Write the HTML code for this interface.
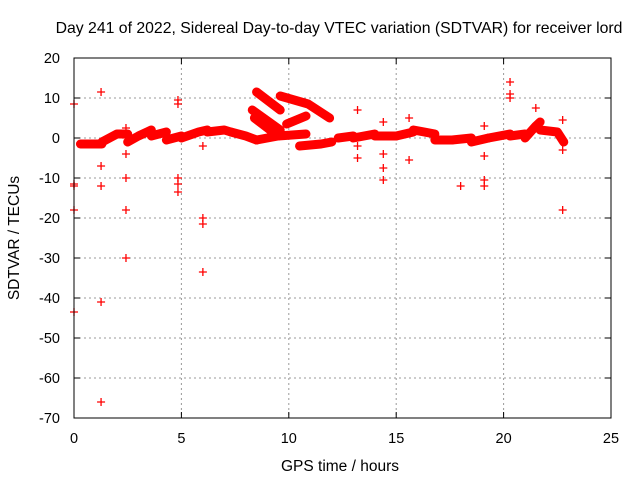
<!DOCTYPE html>
<html><head><meta charset="utf-8"><style>
body{margin:0;background:#fff;}
svg{display:block;font-family:"Liberation Sans",sans-serif;}
</style></head><body>
<svg id="chart" width="640" height="480" viewBox="0 0 640 480">
<rect width="640" height="480" fill="#fff"/>
<g id="grid"></g>
<g id="ticks"></g>
<g id="tracks"></g>
<g id="outliers"></g>
<rect x="74" y="58" width="537" height="360" fill="none" stroke="#000" stroke-width="1"/>
<text x="339" y="33" font-size="15.8" text-anchor="middle">Day 241 of 2022, Sidereal Day-to-day VTEC variation (SDTVAR) for receiver lord</text>
<text x="340" y="471" font-size="15.5" text-anchor="middle">GPS time / hours</text>
<text transform="translate(19,238) rotate(-90)" font-size="15.5" text-anchor="middle">SDTVAR / TECUs</text>
</svg>
<script>
const xTicks=[0,5,10,15,20,25];
const yTicks=[20,10,0,-10,-20,-30,-40,-50,-60,-70];
const tracks=[
[[0.3,-1.5],[1.3,-1.5]],
[[1.3,-1],[2.0,1],[2.5,1]],
[[2.5,-1],[3.0,0.5],[3.6,2]],
[[3.6,0.5],[4.3,1.5]],
[[4.3,-0.5],[5.0,0.5]],
[[5.0,0],[5.8,1.5],[6.2,2]],
[[6.2,1.5],[7.0,2],[7.3,1.5]],
[[7.3,1.5],[8.0,0.5],[8.5,-0.5]],
[[8.5,11.5],[9.6,7]],
[[8.3,7],[9.6,2]],
[[8.4,5],[9.5,0.5]],
[[8.5,-0.5],[9.5,0.5],[10.8,1]],
[[9.6,10.5],[10.9,8.5],[11.9,5]],
[[9.9,3.5],[10.8,5.5]],
[[10.5,-2],[11.5,-1.5],[12,-1]],
[[12.3,0],[13.0,0.5]],
[[13.0,0],[14,1]],
[[14,0.5],[15,0.5]],
[[15,0.5],[15.8,1.5]],
[[15.8,2],[16.8,1]],
[[16.8,-0.5],[17.6,-0.5]],
[[17.6,-0.5],[18.5,0]],
[[18.5,-1],[19.3,0]],
[[19.3,0],[20.3,1]],
[[20.3,0.5],[21.0,1]],
[[21,0],[21.5,3],[21.7,4]],
[[21.7,2],[22.5,1.5],[22.8,-1]]
];
const outHours=[0,0,0,0,0,1.26,1.26,1.26,1.26,1.26,2.42,2.42,2.42,2.42,2.42,2.42,4.84,4.84,4.84,4.84,4.84,6.0,6.0,6.0,6.0,13.2,13.2,13.2,14.4,14.4,14.4,14.4,15.6,15.6,18.0,19.1,19.1,19.1,19.1,20.3,20.3,20.3,21.5,22.75,22.75,22.75];
const outValues=[8.5,-11.5,-12,-18,-43.5,11.5,-7,-12,-41,-66,2.5,0,-4,-10,-18,-30,9.5,8.5,-10,-11.5,-13.5,-2,-20,-21.5,-33.5,7,-2,-5,4,-4,-7.5,-10.5,5,-5.5,-12,3,-4.5,-10.5,-12,14,11,10,7.5,4.5,-3,-18];
const X=h=>74+h*537/25, Y=v=>58+(20-v)*4;
const NS="http://www.w3.org/2000/svg";
const g=id=>document.getElementById(id);
function mk(t,a,p){const e=document.createElementNS(NS,t);for(const k in a)e.setAttribute(k,a[k]);p.appendChild(e);return e;}
xTicks.forEach(t=>{
 if(t>0&&t<25){const l=mk('line',{x1:X(t),x2:X(t),y1:58,y2:418,stroke:'#999','stroke-dasharray':'2,3'},g('grid'));
 
 }
 mk('line',{x1:X(t),x2:X(t),y1:418,y2:412,stroke:'#000'},g('ticks'));
 mk('line',{x1:X(t),x2:X(t),y1:58,y2:64,stroke:'#000'},g('ticks'));
 const tx=mk('text',{x:X(t),y:443,'font-size':14.5,'text-anchor':'middle'},g('ticks'));tx.textContent=t;
 
 
});
yTicks.forEach(t=>{
 if(t<20&&t>-70){const l=mk('line',{x1:74,x2:611,y1:Y(t),y2:Y(t),stroke:'#999','stroke-dasharray':'2,3'},g('grid'));
 
 }
 mk('line',{x1:74,x2:80,y1:Y(t),y2:Y(t),stroke:'#000'},g('ticks'));
 mk('line',{x1:611,x2:605,y1:Y(t),y2:Y(t),stroke:'#000'},g('ticks'));
 const tx=mk('text',{x:60,y:Y(t)+5,'font-size':14.5,'text-anchor':'end'},g('ticks'));tx.textContent=t;
 
 
});
tracks.forEach(tr=>{
 const p=mk('polyline',{points:tr.map(d=>X(d[0])+','+Y(d[1])).join(' '),fill:'none',stroke:'#f00','stroke-width':9,'stroke-linejoin':'round','stroke-linecap':'round'},g('tracks'));
 
 
});
outHours.forEach((h,i)=>{
 const x=X(h),y=Y(outValues[i]);
 const p=mk('path',{d:`M${x-4},${y}h8M${x},${y-4}v8`,stroke:'#f00','stroke-width':1.3},g('outliers'));
 
 
});
</script>
</body></html>
